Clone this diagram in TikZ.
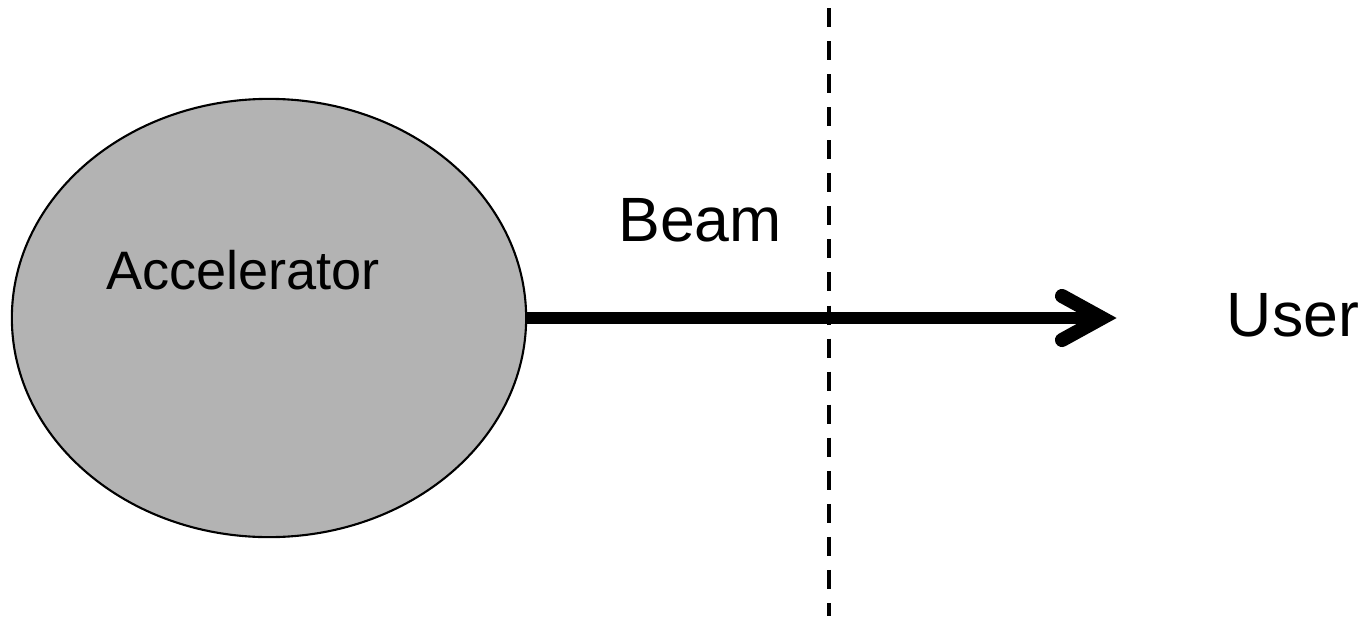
\documentclass[tikz,border=0pt]{standalone}
\usepackage{fontspec}
\setmainfont{Liberation Sans}
\usetikzlibrary{shapes.geometric}
\definecolor{accgray}{HTML}{B3B3B3}
\begin{document}
\begin{tikzpicture}[x=0.01cm,y=-0.01cm,
  accshape/.style={ellipse, draw=black, line width=0.6pt, fill=accgray,
    minimum width=5.14cm, minimum height=4.38cm, inner sep=0pt},
  bigtext/.style={font=\fontsize{17.8pt}{20pt}\selectfont, anchor=base, inner sep=0pt},
  smalltext/.style={font=\fontsize{15.4pt}{18pt}\selectfont, anchor=base, inner sep=0pt},
  beamline/.style={line width=3.5pt},
  chevron/.style={line width=4pt, line cap=round, line join=miter},
  boundary/.style={line width=1.4pt, dash pattern=on 5.4pt off 4pt}]
  \useasboundingbox (0,0) rectangle (1367,618);

  % accelerator
  \node[accshape] (acc) at (269,318) {};
  \node[smalltext] (acclabel) at (243,289) {Accelerator};

  % beam towards the user
  \coordinate (tip) at (1102,318);
  \draw[beamline] (acc.east) -- (tip);
  \coordinate (armtop) at (1062,296);
  \coordinate (armbot) at (1062,340);
  \draw[chevron] (armtop) -- (tip) -- (armbot);

  % boundary
  \coordinate (btop) at (829,8);
  \coordinate (bbot) at (829,616);
  \draw[boundary] (btop) -- (bbot);

  \node[bigtext] (beam) at (700,241) {Beam};
  \node[bigtext] (user) at (1293,336) {User};
\end{tikzpicture}
\end{document}
